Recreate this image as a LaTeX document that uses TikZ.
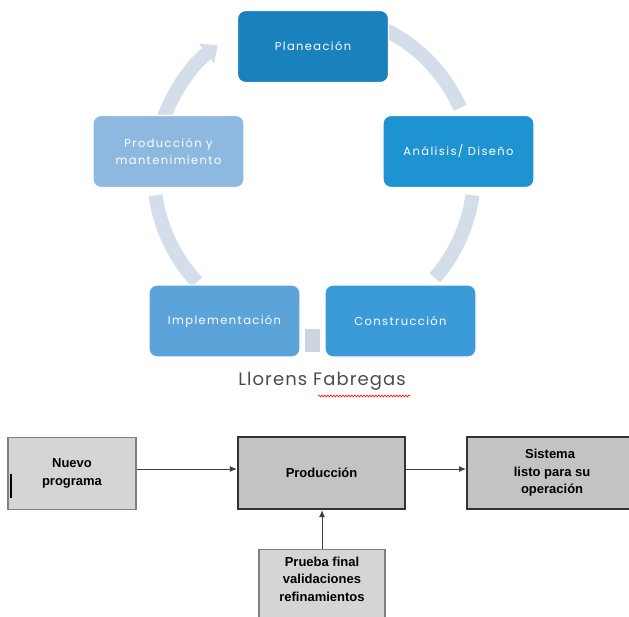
\documentclass[tikz,border=0pt]{standalone}
\usepackage{fontspec}
\setmainfont{Liberation Sans}
\newfontfamily\cyclefont[LetterSpace=12]{Poppins}
\newfontfamily\authorfont[LetterSpace=6]{Poppins}
\usetikzlibrary{arrows.meta,decorations.pathmorphing}

\definecolor{planblue}{HTML}{1982BD}
\definecolor{analblue}{HTML}{1E93D2}
\definecolor{consblue}{HTML}{3A9BD8}
\definecolor{implblue}{HTML}{5CA3DA}
\definecolor{prodblue}{HTML}{8DB9E0}
\definecolor{ringblue}{HTML}{D3DEEA}
\definecolor{boxgray}{HTML}{D5D5D5}
\definecolor{darkgray}{HTML}{C3C3C3}

\begin{document}
\begin{tikzpicture}[x=1pt,y=-1pt,
    cyclebox/.style={rounded corners=8pt, draw=white, line width=1.2pt,
      minimum width=151pt, minimum height=72pt, text=white, align=center,
      font=\cyclefont\fontsize{11.5}{17.5}\selectfont},
    ringline/.style={draw=ringblue, line width=14pt},
    flowbox/.style={fill=boxgray, draw=gray, line width=1.3pt, align=center,
      minimum height=72pt, font=\bfseries\fontsize{13}{17.5}\selectfont},
    mainbox/.style={flowbox, fill=darkgray, draw=black!80, line width=2.2pt},
    flowarrow/.style={draw=black!75, line width=1pt, -{Latex[length=7pt,width=6pt]}}]

      \useasboundingbox (0,0) rectangle (629,616);
      \fill[white] (0,0) rectangle (629,616);

      % The ring of the cycle, drawn under the boxes.
      \coordinate (ring) at (314,173);
      \draw[ringline] ([shift={(68:160pt)}]ring)
      arc[start angle=68, end angle=24, radius=160pt];
      \draw[ringline] ([shift={(-8:160pt)}]ring)
      arc[start angle=-8, end angle=-41, radius=160pt];
      \draw[ringline] ([shift={(223:160pt)}]ring)
      arc[start angle=223, end angle=188, radius=160pt];
      \draw[ringline, -{Triangle[width=24pt,length=14pt]}]
      ([shift={(160:160pt)}]ring)
      arc[start angle=160, end angle=127, radius=160pt];
      % The little piece between Construccion and Implementacion.
      \fill[ringblue!90!gray] (305,329) rectangle (320,352);

      % The five steps of the cycle.
      \node[cyclebox, fill=planblue] (plan) at (313,46.5) {Planeación};
      \node[cyclebox, fill=analblue] (anal) at (458.5,151.5) {Análisis/ Diseño};
      \node[cyclebox, fill=consblue] (cons) at (400.5,321) {Construcción};
      \node[cyclebox, fill=implblue] (impl) at (224.5,321) {Implementación};
      \node[cyclebox, fill=prodblue] (mant) at (168.5,151.5)
      {Producción y\\mantenimiento};

      % The name under the cycle.
      \node[text=black!70, font=\authorfont\fontsize{18}{20}\selectfont]
      (autor) at (322,381) {Llorens Fabregas};
      \draw[red, line width=0.6pt, decorate,
      decoration={snake, amplitude=0.9pt, segment length=3pt}]
      (318,396) -- (410,396);

      % The flow of the lower diagram.
      \node[flowbox, minimum width=128pt] (nuevo) at (72,473.5)
      {Nuevo\\programa};
      \draw[black, line width=2pt] ([xshift=4pt]nuevo.west)
      -- ([xshift=4pt,yshift=-24pt]nuevo.west);

      \node[mainbox, minimum width=167pt] (produccion) at (321.5,473)
      {Producción};

      \node[mainbox, minimum width=170pt, anchor=west] (sistema)
      at (466,473) {\hspace*{-4pt}Sistema\\listo para su\\operación};

      \node[flowbox, minimum width=126pt, anchor=north, inner ysep=7pt,
      text depth=40pt] (prueba) at (322,549)
      {Prueba final\\validaciones\\refinamientos};

      % Arrows between the boxes.
      \draw[flowarrow] ([yshift=4.5pt]nuevo.east) -- ([yshift=4.5pt]nuevo.east -| produccion.west);
      \draw[flowarrow] ([yshift=4pt]produccion.east) -- ([yshift=4pt]produccion.east -| sistema.west);
      \draw[flowarrow] (prueba.north) -- (prueba.north |- produccion.south);
    \end{tikzpicture}
\end{document}
